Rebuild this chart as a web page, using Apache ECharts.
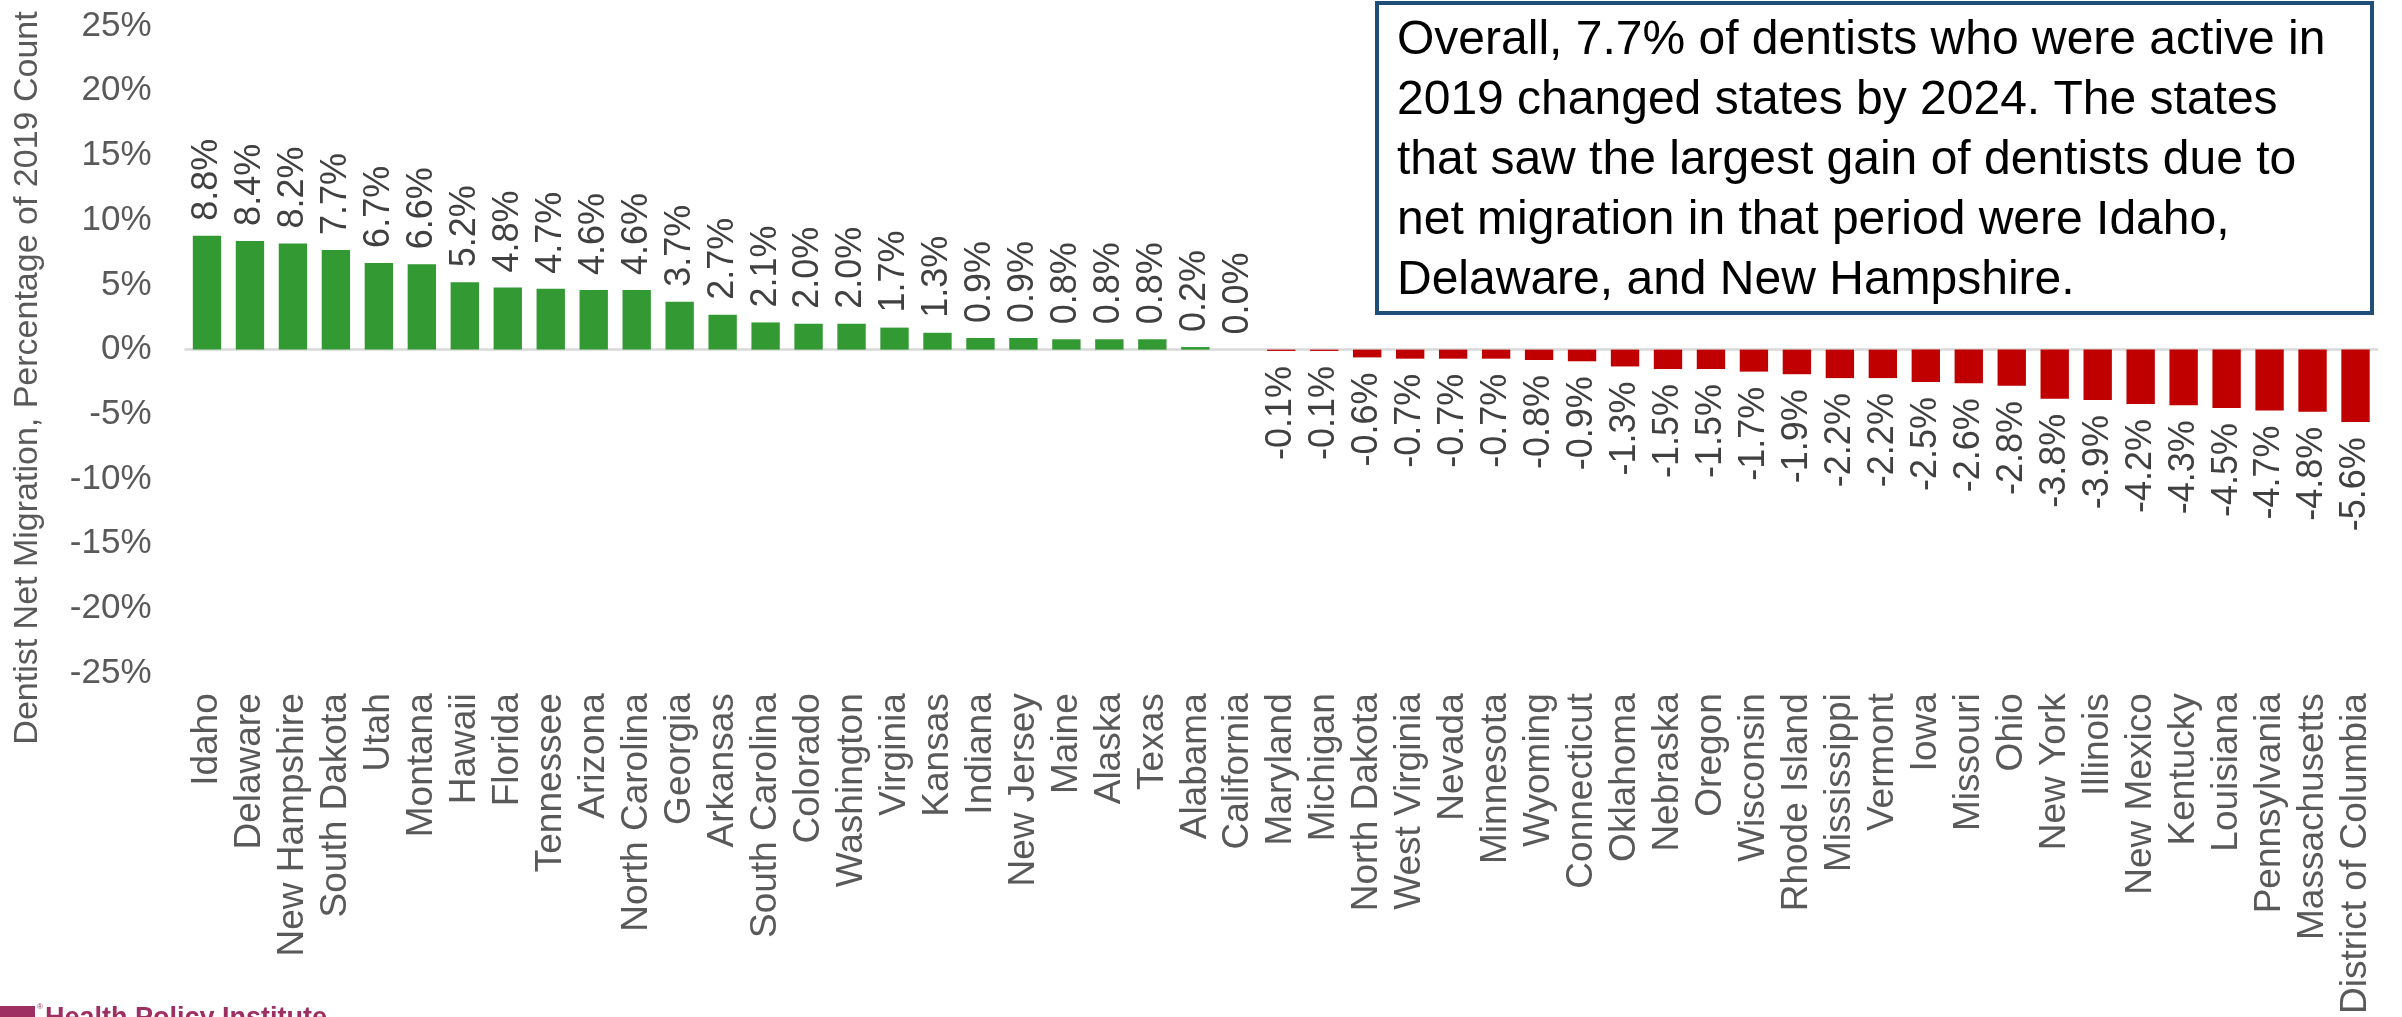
<!DOCTYPE html>
<html>
<head>
<meta charset="utf-8">
<script src="https://cdn.jsdelivr.net/npm/echarts@6/dist/echarts.min.js"></script>
<style>
html,body{margin:0;padding:0;background:#fff;}
#chart{width:2402px;height:1017px;}
</style>
</head>
<body>
<div id="chart"></div>
<script>
const states = ["Idaho","Delaware","New Hampshire","South Dakota","Utah","Montana","Hawaii","Florida","Tennessee","Arizona","North Carolina","Georgia","Arkansas","South Carolina","Colorado","Washington","Virginia","Kansas","Indiana","New Jersey","Maine","Alaska","Texas","Alabama","California","Maryland","Michigan","North Dakota","West Virginia","Nevada","Minnesota","Wyoming","Connecticut","Oklahoma","Nebraska","Oregon","Wisconsin","Rhode Island","Mississippi","Vermont","Iowa","Missouri","Ohio","New York","Illinois","New Mexico","Kentucky","Louisiana","Pennsylvania","Massachusetts","District of Columbia"];
const netMigration = [8.8,8.4,8.2,7.7,6.7,6.6,5.2,4.8,4.7,4.6,4.6,3.7,2.7,2.1,2.0,2.0,1.7,1.3,0.9,0.9,0.8,0.8,0.8,0.2,0.0,-0.1,-0.1,-0.6,-0.7,-0.7,-0.7,-0.8,-0.9,-1.3,-1.5,-1.5,-1.7,-1.9,-2.2,-2.2,-2.5,-2.6,-2.8,-3.8,-3.9,-4.2,-4.3,-4.5,-4.7,-4.8,-5.6];
const yTicks = {min:-25, max:25, interval:5};
const axisTitle = "Dentist Net Migration, Percentage of 2019 Count";
const noteLines = [
  "Overall, 7.7% of dentists who were active in",
  "2019 changed states by 2024. The states",
  "that saw the largest gain of dentists due to",
  "net migration in that period were Idaho,",
  "Delaware, and New Hampshire."
];
const logoText = "Health Policy Institute";

const GREEN = '#339933', RED = '#C00000';
const FONT = '"Liberation Sans", Arial, Helvetica, sans-serif';

const barData = netMigration.map(v => {
  const neg = v < 0;
  return {
    value: v,
    itemStyle: {color: neg ? RED : GREEN},
    label: neg ? {position:'bottom', align:'right'} : {position:'top', align:'left'}
  };
});

const chart = echarts.init(document.getElementById('chart'));
chart.setOption({
  animation: false,
  backgroundColor: '#ffffff',
  grid: {left: 185.5, right: 25, top: 26, bottom: 343, containLabel: false},
  xAxis: [
    {
      type: 'category', data: states, boundaryGap: true,
      axisLine: {onZero: true, lineStyle: {color: '#d9d9d9', width: 2.5}},
      axisTick: {show: false}, axisLabel: {show: false}, splitLine: {show: false}
    },
    {
      type: 'category', data: states, boundaryGap: true, position: 'bottom',
      axisLine: {show: false, onZero: false}, axisTick: {show: false},
      axisLabel: {rotate: 90, interval: 0, margin: 20, fontSize: 37, color: '#595959', fontFamily: FONT}
    }
  ],
  yAxis: {
    type: 'value', min: yTicks.min, max: yTicks.max, interval: yTicks.interval,
    axisLine: {show: false}, axisTick: {show: false}, splitLine: {show: false},
    axisLabel: {formatter: '{value}%', fontSize: 35, color: '#595959', margin: 34, fontFamily: FONT}
  },
  series: [{
    type: 'bar', xAxisIndex: 0, data: barData, barCategoryGap: '34%',
    label: {
      show: true, rotate: 90, verticalAlign: 'middle', distance: 15,
      fontSize: 36, color: '#404040', fontFamily: FONT,
      formatter: p => p.value.toFixed(1) + '%'
    }
  }],
  graphic: [
    {
      type: 'text', x: 28, y: 378, rotation: Math.PI / 2,
      style: {text: axisTitle, font: '34px ' + FONT, fill: '#595959', align: 'center', verticalAlign: 'middle'}
    },
    {
      type: 'rect', shape: {x: 1377, y: 3, width: 995, height: 310},
      style: {fill: '#ffffff', stroke: '#1f4e79', lineWidth: 4}, z: 10
    },
    {
      type: 'text', x: 1397, y: 11, z: 11,
      style: {text: noteLines.join('\n'), font: '48px ' + FONT, fill: '#000000', lineHeight: 60, align: 'left', verticalAlign: 'top'}
    },
    {
      type: 'rect', shape: {x: 0, y: 1006, width: 35, height: 11}, style: {fill: '#9e2f62'}
    },
    {
      type: 'text', x: 45, y: 1005,
      style: {text: logoText, font: 'bold 27px ' + FONT, fill: '#9e2f62', align: 'left', verticalAlign: 'top'}
    },
    {
      type: 'text', x: 37, y: 1003,
      style: {text: '®', font: '8px ' + FONT, fill: '#9e2f62', align: 'left', verticalAlign: 'top'}
    }
  ]
});
</script>
</body>
</html>
